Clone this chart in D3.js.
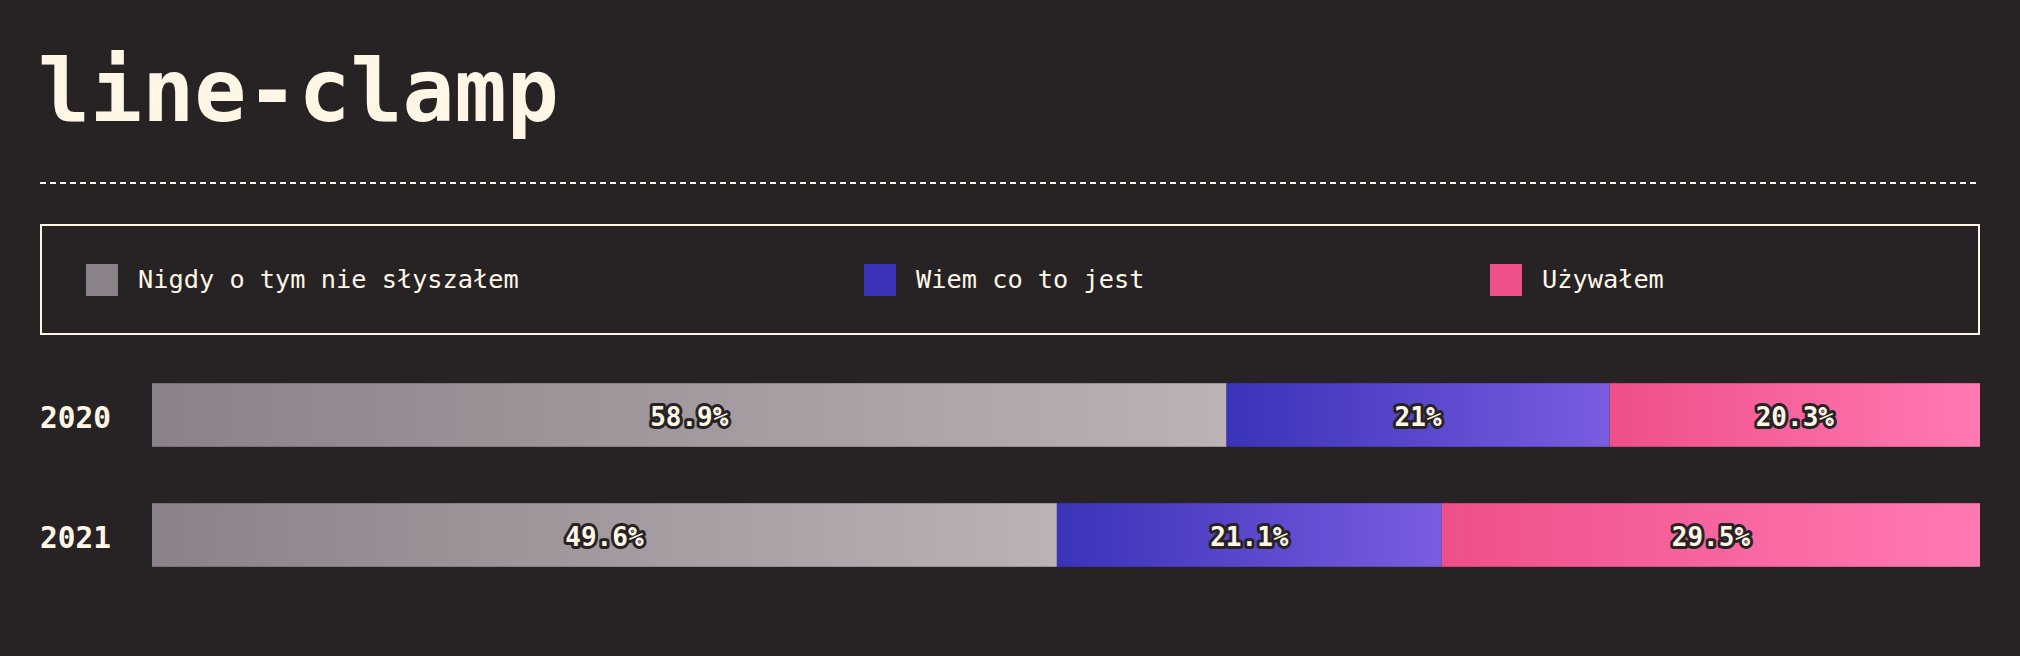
<!DOCTYPE html>
<html>
<head>
<meta charset="utf-8">
<script src="https://cdn.jsdelivr.net/npm/d3@7"></script>
<style>
  html, body { margin: 0; padding: 0; background: #272325; }
  svg { display: block; }
</style>
</head>
<body>
<div id="chart"></div>
<script>
// Data
const years = ["2020", "2021"];
const categories = ["Nigdy o tym nie słyszałem", "Wiem co to jest", "Używałem"];
const neverHeard = [58.9, 49.6];
const knowWhat = [21, 21.1];
const used = [20.3, 29.5];
const seriesValues = [neverHeard, knowWhat, used];

const colorsStart = ["#8b8189", "#3a33b8", "#ef4f8a"];
const colorsEnd = ["#bab2b5", "#7a5ce0", "#ff79b3"];

const width = 2020;
const height = 656;
const margin = { left: 40, right: 40 };
const barLeft = 152;
const cream = "#fff6e6";

const svg = d3.select("#chart").append("svg")
  .attr("width", width)
  .attr("height", height);

// Gradients for each series
const defs = svg.append("defs");
categories.forEach((c, i) => {
  const g = defs.append("linearGradient")
    .attr("id", "grad" + i)
    .attr("x1", "0%").attr("x2", "100%")
    .attr("y1", "0%").attr("y2", "0%");
  g.append("stop").attr("offset", "0%").attr("stop-color", colorsStart[i]);
  g.append("stop").attr("offset", "100%").attr("stop-color", colorsEnd[i]);
});

// Title
svg.append("text")
  .attr("x", margin.left - 2)
  .attr("y", 121)
  .attr("font-family", "'DejaVu Sans Mono', monospace")
  .attr("font-weight", "bold")
  .attr("font-size", 86.5)
  .attr("fill", cream)
  .text("line-clamp");

// Dashed divider
svg.append("line")
  .attr("x1", margin.left)
  .attr("x2", width - margin.right)
  .attr("y1", 183)
  .attr("y2", 183)
  .attr("stroke", cream)
  .attr("stroke-width", 2)
  .attr("stroke-dasharray", "6 4");

// Legend box
svg.append("rect")
  .attr("x", margin.left + 1)
  .attr("y", 225)
  .attr("width", width - margin.left - margin.right - 2)
  .attr("height", 109)
  .attr("fill", "none")
  .attr("stroke", cream)
  .attr("stroke-width", 2);

const legendX = [86, 864, 1490];
const legend = svg.selectAll(".legend")
  .data(categories)
  .enter().append("g")
  .attr("class", "legend")
  .attr("transform", (d, i) => `translate(${legendX[i]},264)`);

legend.append("rect")
  .attr("width", 32)
  .attr("height", 32)
  .attr("fill", (d, i) => colorsStart[i]);

legend.append("text")
  .attr("x", 52)
  .attr("y", 15)
  .attr("dy", "0.35em")
  .attr("font-family", "'DejaVu Sans Mono', monospace")
  .attr("font-size", 25.3)
  .attr("fill", cream)
  .text(d => d);

// Scales
const y = d3.scaleBand()
  .domain(years)
  .range([355, 595])
  .paddingInner(0.47)
  .paddingOuter(0.235);

// Stack rows
const rows = years.map((yr, j) => {
  const vals = seriesValues.map(s => s[j]);
  const total = d3.sum(vals);
  const x = d3.scaleLinear().domain([0, total]).range([barLeft, width - margin.right]);
  let acc = 0;
  return vals.map((v, i) => {
    const seg = { year: yr, i, value: v, x0: x(acc), x1: x(acc + v) };
    acc += v;
    return seg;
  });
}).flat();

// Year labels
svg.selectAll(".year")
  .data(years)
  .enter().append("text")
  .attr("class", "year")
  .attr("x", margin.left)
  .attr("y", d => y(d) + y.bandwidth() / 2 + 2)
  .attr("dy", "0.36em")
  .attr("font-family", "'DejaVu Sans Mono', monospace")
  .attr("font-weight", "bold")
  .attr("font-size", 29.5)
  .attr("fill", cream)
  .text(d => d);

// Bars
svg.selectAll(".seg")
  .data(rows)
  .enter().append("rect")
  .attr("class", "seg")
  .attr("x", d => d.x0)
  .attr("y", d => y(d.year))
  .attr("width", d => d.x1 - d.x0)
  .attr("height", y.bandwidth())
  .attr("fill", d => `url(#grad${d.i})`);

// Value labels
svg.selectAll(".val")
  .data(rows)
  .enter().append("text")
  .attr("class", "val")
  .attr("x", d => (d.x0 + d.x1) / 2)
  .attr("y", d => y(d.year) + y.bandwidth() / 2 + 1.5)
  .attr("dy", "0.36em")
  .attr("text-anchor", "middle")
  .attr("font-family", "'DejaVu Sans Mono', monospace")
  .attr("font-weight", "bold")
  .attr("font-size", 26)
  .attr("fill", cream)
  .attr("stroke", "#272325")
  .attr("stroke-width", 6)
  .attr("stroke-linejoin", "round")
  .attr("paint-order", "stroke")
  .text(d => d.value + "%");
</script>
</body>
</html>
